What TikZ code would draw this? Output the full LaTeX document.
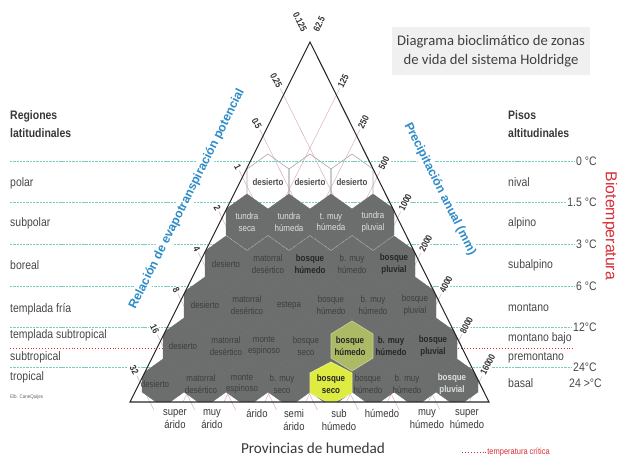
\documentclass[tikz,border=0pt]{standalone}
\usepackage{fontspec}
\setmainfont{Liberation Sans}
\newfontfamily\narrowfont[FakeStretch=0.85]{Liberation Sans}
\newfontfamily\calibrifont{Carlito}
\usepackage{tikz}
\usetikzlibrary{positioning}

\definecolor{hexgray}{RGB}{107,110,109}
\definecolor{hexdim}{RGB}{60,63,62}
\definecolor{hexwhite}{RGB}{222,224,223}
\definecolor{isoteal}{RGB}{120,205,192}
\definecolor{critred}{RGB}{215,45,55}
\definecolor{axisblue}{RGB}{45,140,200}
\definecolor{guidepink}{RGB}{215,170,190}
\definecolor{titlebg}{RGB}{240,240,240}
\definecolor{humgreen}{RGB}{172,186,102}
\definecolor{humyellow}{RGB}{222,236,66}

% hexagon cell: [style]{x}{y}{top}{side}
\newcommand{\hexcell}[5][]{%
  \path[#1] ({#2-21},{#3-#5}) -- (#2,{#3-#4}) -- ({#2+21},{#3-#5})
    -- ({#2+21},{#3+#5}) -- (#2,{#3+#4}) -- ({#2-21},{#3+#5}) -- cycle;}

\begin{document}
\begin{tikzpicture}[
    x=0.03cm, y=-0.03cm,
    hexlabel/.style={align=center, inner sep=0.5pt, text=hexdim, font=\narrowfont\fontsize{8}{9.8}\selectfont},
    hexpale/.style={hexlabel, text=hexwhite},
    hexbold/.style={hexlabel, text=black!85, font=\narrowfont\bfseries\fontsize{8}{9.8}\selectfont},
    hexpalebold/.style={hexbold, text=hexwhite},
    sidelabel/.style={anchor=west, inner sep=0pt, text=black!72, font=\narrowfont\fontsize{10.5}{15}\selectfont},
    sidehead/.style={sidelabel, align=left, text=black!78, font=\narrowfont\bfseries\fontsize{10.5}{15}\selectfont},
    templabel/.style={anchor=east, inner sep=1pt, text=black!72, font=\narrowfont\fontsize{10.5}{12}\selectfont},
    ticklabel/.style={inner sep=1pt, fill=white, text=black!80, font=\narrowfont\bfseries\fontsize{8}{9}\selectfont},
    axislabel/.style={inner sep=1.5pt, fill=white, text=axisblue, font=\bfseries\fontsize{10.5}{12}\selectfont},
    provlabel/.style={anchor=north, align=center, inner sep=0pt, text=black!78, font=\narrowfont\fontsize{9.5}{11}\selectfont},
    isoline/.style={isoteal, line width=0.6pt, dash pattern=on 2pt off 0.8pt},
    critline/.style={critred, line width=0.5pt, dotted},
    guide/.style={guidepink, line width=0.4pt}
]
    \useasboundingbox (0,0) rectangle (617,461);

    % Triangle corners
    \coordinate (apex) at (310,42);
    \coordinate (bl) at (130,402);
    \coordinate (br) at (489,402);

    % Guide lines
    \foreach \y in {95,136,...,382} {
        \draw[guide] ({130+(402-\y)/2-4},{\y-8}) -- ({130+(402-\y)/2+0.497*(410-\y)},410);
        \draw[guide] ({489-0.497*(402-\y)+4},{\y-8}) -- ({489-0.497*(402-\y)-0.5*(402-\y)},402);
    }

    % Polar row
    \foreach \x in {268,310,352} {
        \hexcell[draw=black!35, line width=0.5pt]{\x}{182}{28}{13}
    }

    % Isotherms
    \node[templabel] (t0)  at (598,161) {0 °C};
    \node[templabel] (t1)  at (598,202) {1.5 °C};
    \node[templabel] (t3)  at (598,244) {3 °C};
    \node[templabel] (t6)  at (598,286) {6 °C};
    \node[templabel] (t12) at (598,327) {12°C};
    \node[templabel] (t24) at (598,367) {24°C};
    \node[templabel] (tb)  at (603,383) {24 >°C};
    \draw[isoline] (10,161) -- (t0.west);
    \draw[isoline] (10,202) -- (t1.west);
    \draw[isoline] (10,244) -- (t3.west);
    \draw[isoline] (10,286) -- (t6.west);
    \draw[isoline] (10,327) -- (t12.west);
    \draw[isoline] (10,367) -- (t24.west);
    \draw[critline] (10,348) -- (575,348);

    % Axis titles
    \node[axislabel, rotate=63.43] (petaxis) at (187,199) {Relación de evapotranspiración potencial};
    \node[axislabel, rotate=-63.43] (precaxis) at (440,189) {Precipitación anual (mm)};

    % Tick labels
    \node[ticklabel, rotate=-63.43, anchor=east] (pet-0) at (305,32) {0.125};
    \foreach \y/\v [count=\i] in {95/0.25,136/0.5,177/1,218/2,259/4,300/8,341/16,382/32} {
        \node[ticklabel, rotate=-63.43, anchor=east] (pet-\i) at ({130+(402-\y)/2-0.445*7},{\y-0.895*7}) {\v};
    }
    \node[ticklabel, rotate=63.43, anchor=west] (pp-0) at (315,32) {62.5};
    \foreach \y/\v [count=\i] in {95/125,136/250,177/500,218/1000,259/2000,300/4000,341/8000,382/16000} {
        \node[ticklabel, rotate=63.43, anchor=west] (pp-\i) at ({489-0.497*(402-\y)+0.445*7},{\y-0.895*7}) {\v};
    }

    % Life zone cells
    \begin{scope}
        \clip (apex) -- (bl) -- (br) -- cycle;
        \foreach \r/\cy/\hh/\ss in {2/222/28/13, 3/264/28/13, 4/305/28/13, 5/346/28/13, 6/383/24/9} {
            \pgfmathtruncatemacro\n{\r+2}
            \foreach \i in {1,...,\n} {
                \pgfmathsetmacro\cx{310+42*(\i-(\n+1)/2)}
                \hexcell[fill=hexgray, draw=hexgray, line width=0.3pt]{\cx}{\cy}{\hh}{\ss}
            }
        }
        \hexcell[fill=humgreen, draw=humgreen!70!white, line width=0.6pt]{352}{346}{25}{12}
        \hexcell[fill=humyellow, draw=humyellow!70!white, line width=0.6pt]{331}{383}{21}{10}
    \end{scope}

    % Zone names
    \foreach \x [count=\i] in {268,310,352} {
        \node[hexbold, text=black!70] (polar-\i) at (\x,182) {desierto};
    }
    \foreach \x/\txt/\sty [count=\i] in {247/{tundra\\seca}/hexpale, 289/{tundra\\húmeda}/hexpale,
            331/{t. muy\\húmeda}/hexpale, 373/{tundra\\pluvial}/hexpale} {
        \node[\sty] (subpolar-\i) at (\x,222) {\txt};
    }
    \foreach \x/\txt/\sty [count=\i] in {226/desierto/hexlabel, 268/{matorral\\desértico}/hexlabel,
            310/{bosque\\húmedo}/hexbold, 352/{b. muy\\húmedo}/hexlabel, 394/{bosque\\pluvial}/hexbold} {
        \node[\sty] (boreal-\i) at (\x,264) {\txt};
    }
    \foreach \x/\txt/\sty [count=\i] in {205/desierto/hexlabel, 247/{matorral\\desértico}/hexlabel,
            289/estepa/hexlabel, 331/{bosque\\húmedo}/hexlabel, 373/{b. muy\\húmedo}/hexlabel, 415/{bosque\\pluvial}/hexlabel} {
        \node[\sty] (fria-\i) at (\x,305) {\txt};
    }
    \foreach \x/\txt/\sty [count=\i] in {183/desierto/hexlabel, 226/{matorral\\desértico}/hexlabel,
            264/{monte\\espinoso}/hexlabel, 306/{bosque\\seco}/hexlabel, 350/{bosque\\húmedo}/hexbold,
            391/{b. muy\\húmedo}/hexbold, 433/{bosque\\pluvial}/hexbold} {
        \node[\sty] (subtrop-\i) at (\x,346) {\txt};
    }
    \foreach \x/\txt/\sty [count=\i] in {155/desierto/hexlabel, 201/{matorral\\desértico}/hexlabel,
            242/{monte\\espinoso}/hexlabel, 282/{b. muy\\seco}/hexlabel, 331/{bosque\\seco}/hexbold,
            368/{bosque\\húmedo}/hexlabel, 407/{b. muy\\húmedo}/hexlabel, 452/{bosque\\pluvial}/hexpalebold} {
        \node[\sty] (trop-\i) at (\x,384) {\txt};
    }

    % Triangle
    \draw[black!85, line width=0.9pt] (apex) -- (bl) -- (br) -- cycle;

    % Humidity provinces
    \foreach \x/\txt [count=\i] in {175/{super\\árido}, 212/{muy\\árido}, 257/árido, 294/{semi\\árido},
            339/{sub\\húmedo}, 382/húmedo, 427/{muy\\húmedo}, 467/{super\\húmedo}} {
        \node[provlabel] (prov-\i) at (\x,409) {\txt};
    }
    \node[text=black!78, font=\calibrifont\fontsize{13}{15}\selectfont] (provtitle) at (313,448) {Provincias de humedad};

    % Latitudinal regions
    \node[sidehead] (regiones) at (10,124) {Regiones\\latitudinales};
    \node[sidelabel] (polar)    at (10,183) {polar};
    \node[sidelabel] (subpolar) at (10,223) {subpolar};
    \node[sidelabel] (boreal)   at (10,265) {boreal};
    \node[sidelabel] (fria)     at (10,309) {templada fría};
    \node[sidelabel] (tsub)     at (10,335) {templada subtropical};
    \node[sidelabel] (subtrop)  at (10,357) {subtropical};
    \node[sidelabel] (tropical) at (10,377) {tropical};
    \node[anchor=west, inner sep=0pt, text=black!60, font=\narrowfont\fontsize{4.5}{5}\selectfont] (credit) at (10,397) {Elb. CaneQuijes};

    % Altitudinal belts
    \node[sidehead] (pisos)     at (508,124) {Pisos\\altitudinales};
    \node[sidelabel] (nival)     at (508,182) {nival};
    \node[sidelabel] (alpino)    at (508,223) {alpino};
    \node[sidelabel] (subalpino) at (508,265) {subalpino};
    \node[sidelabel] (montano)   at (508,308) {montano};
    \node[sidelabel] (mbajo)     at (508,338) {montano bajo};
    \node[sidelabel] (premont)   at (508,358) {premontano};
    \node[sidelabel] (basal)     at (508,383) {basal};
    \node[rotate=-90, text=critred, inner sep=0pt, font=\fontsize{13.5}{15}\selectfont] (biotemp) at (610,226) {Biotemperatura};

    % Title and legend
    \node[fill=titlebg, draw=black!6, minimum width=5.9cm, minimum height=1.4cm, align=center,
        text=black!75, font=\calibrifont\fontsize{12.5}{16.5}\selectfont] (title) at (491,51)
        {Diagrama bioclimático de zonas\\de vida del sistema Holdridge};
    \node[anchor=west, inner sep=1pt, text=critred, font=\narrowfont\fontsize{7.5}{9}\selectfont] (crit) at (486,452) {temperatura crítica};
    \draw[critline] (462,452) -- (crit.west);
\end{tikzpicture}
\end{document}
